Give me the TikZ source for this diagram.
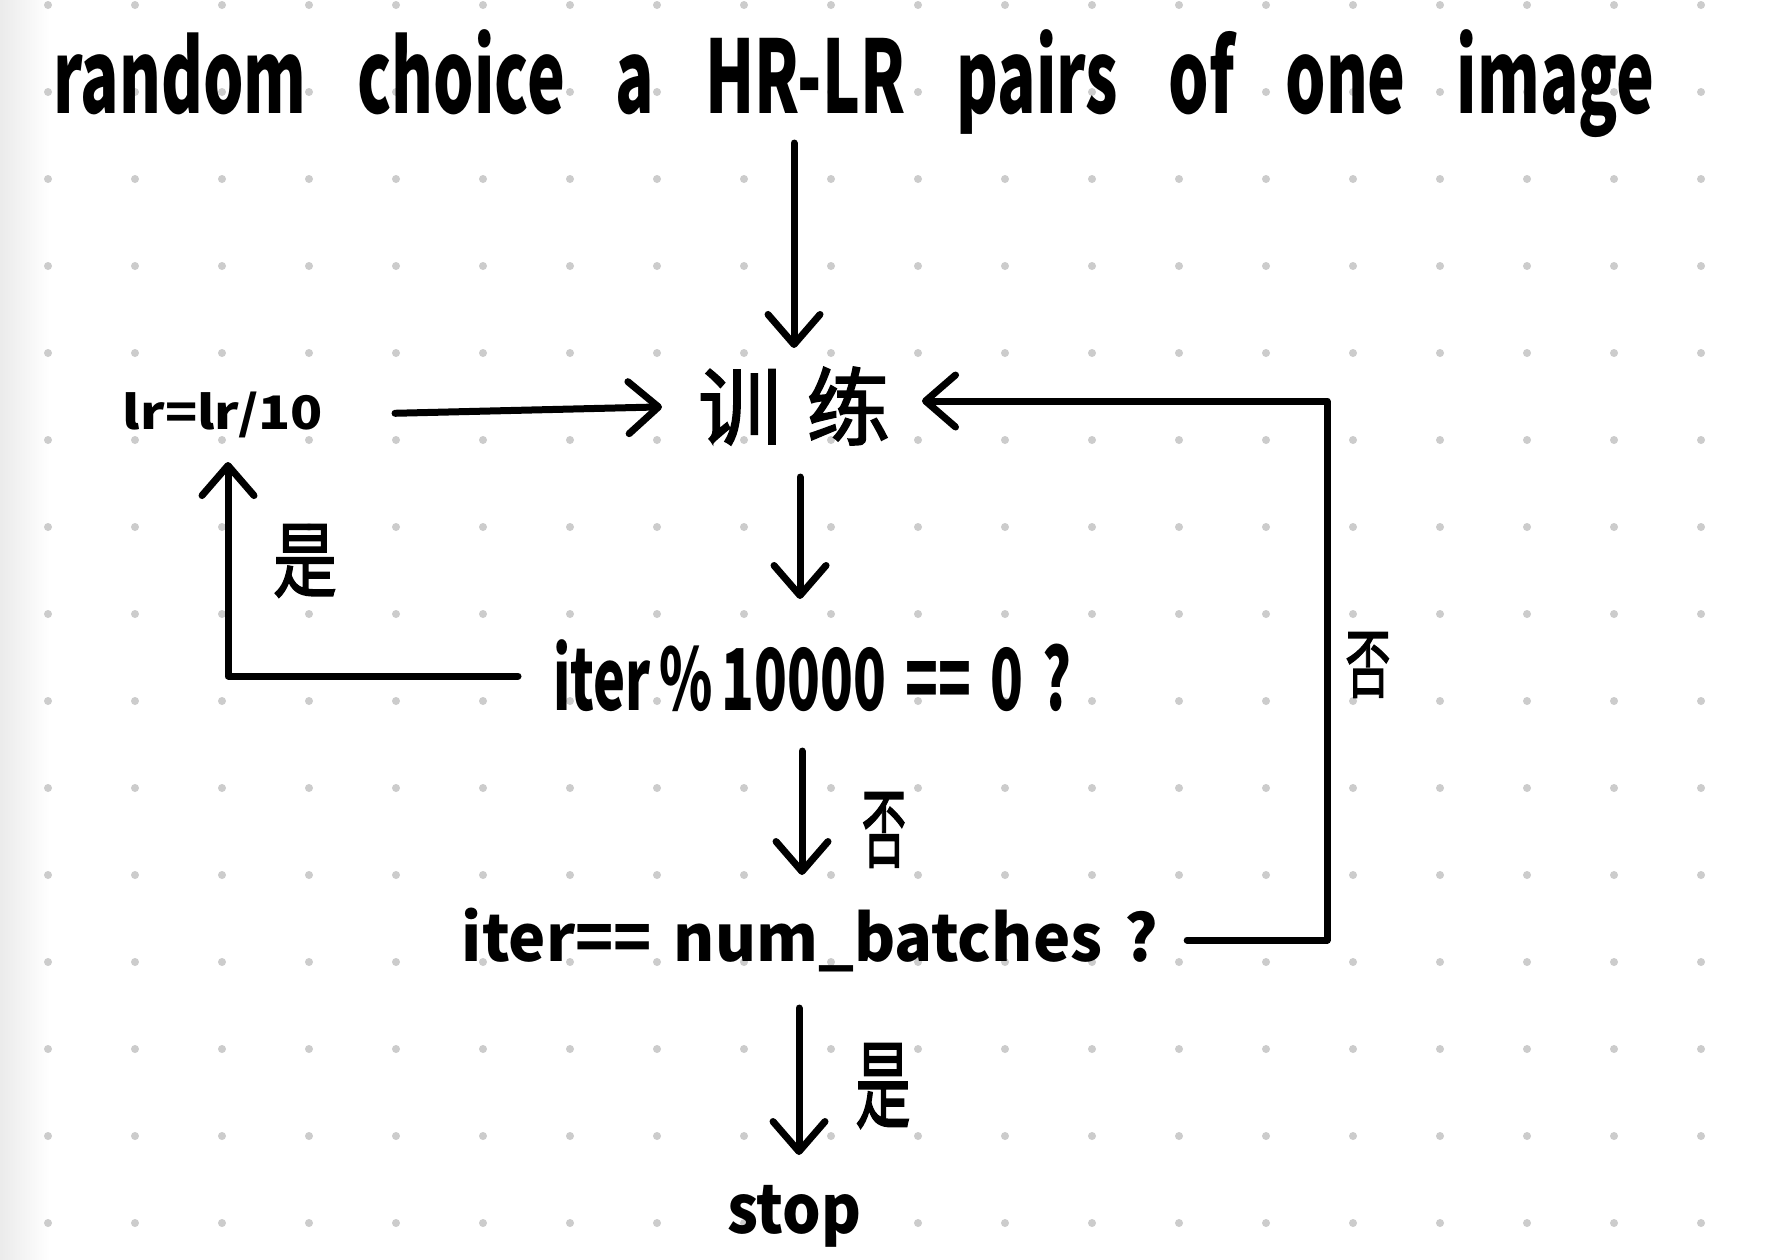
\documentclass[tikz,border=0pt]{standalone}
\usepackage{fontspec}
\setmainfont{Noto Sans CJK SC}
\newfontfamily\zhfont{Noto Sans CJK SC}[FakeBold=2]
\usepackage{graphicx}
\usetikzlibrary{arrows.meta}
\definecolor{dotgray}{HTML}{CCCCCC}
\newcommand{\fitbox}[3]{\resizebox*{#1}{#2}{#3}}
\begin{document}
\begin{tikzpicture}[x=1pt,y=-1pt,
  ink/.style={line width=7pt, line cap=round, line join=round, black},
  arr/.style={ink, -{Straight Barb[length=30pt,width=52pt,round]}},
  lbl/.style={inner sep=0pt, outer sep=0pt, font=\bfseries},
  zh/.style={inner sep=0pt, outer sep=0pt, font=\zhfont}]
\useasboundingbox (0,0) rectangle (1771,1259);
\fill[white] (0,0) rectangle (1771,1259);
\shade[left color=black!8, right color=white] (0,0) rectangle (50,1259);
\foreach \i in {0,...,19} \foreach \j in {0,...,14} \fill[dotgray] (48+87*\i, 5+87*\j) circle (4pt);

% texts
\node[lbl] (title) at (854,84) {\fitbox{1601pt}{108pt}{\spaceskip=0.8em\relax random choice a HR-LR pairs of one image}};
\node[lbl] (lr) at (223,415) {\fitbox{200pt}{46pt}{lr=lr/10}};
\node[zh] (tr) at (794,406) {\fitbox{192pt}{78pt}{训\hspace{0.3em}练}};
\node[lbl] (q1) at (812,676) {\fitbox{518pt}{72pt}{\spaceskip=0.35em\relax iter\,\%\,10000 == 0 ?}};
\node[lbl] (q2) at (810,940) {\fitbox{696pt}{64pt}{\spaceskip=0.35em\relax iter== num\_batches ?}};
\node[lbl] (stop) at (794,1216) {\fitbox{134pt}{62pt}{stop}};
\node[zh] (yes1) at (305,561) {\fitbox{64pt}{73pt}{是}};
\node[zh] (no1) at (884,830) {\fitbox{44pt}{75pt}{否}};
\node[zh] (no2) at (1368,665) {\fitbox{45pt}{65pt}{否}};
\node[zh] (yes2) at (883,1086) {\fitbox{55pt}{85pt}{是}};

\coordinate (rt) at (1327,401);

% connectors
\draw[arr, shorten <=5pt, shorten >=19pt] (title.south -| tr.north) -- (tr.north);
\draw[arr, shorten <=72pt, shorten >=36pt] (lr.east) -- (tr.west);
\draw[arr, shorten <=29pt, shorten >=32pt] (q2.east) -| (rt) -- (rt -| tr.east);
\draw[arr, shorten <=32pt, shorten >=41pt] ([xshift=6pt]tr.south) -- ([xshift=6pt]tr.south |- q1.north);
\draw[arr, shorten <=35pt, shorten >=24pt] (q1.west) -| ([xshift=5pt]lr.south);
\draw[arr, shorten <=39pt, shorten >=33pt] ([xshift=-10pt]q1.south) -- ([xshift=-10pt]q1.south |- q2.north);
\draw[arr, shorten <=36pt, shorten >=30pt] ([xshift=5pt]stop.north |- q2.south) -- ([xshift=5pt]stop.north);
\end{tikzpicture}
\end{document}
